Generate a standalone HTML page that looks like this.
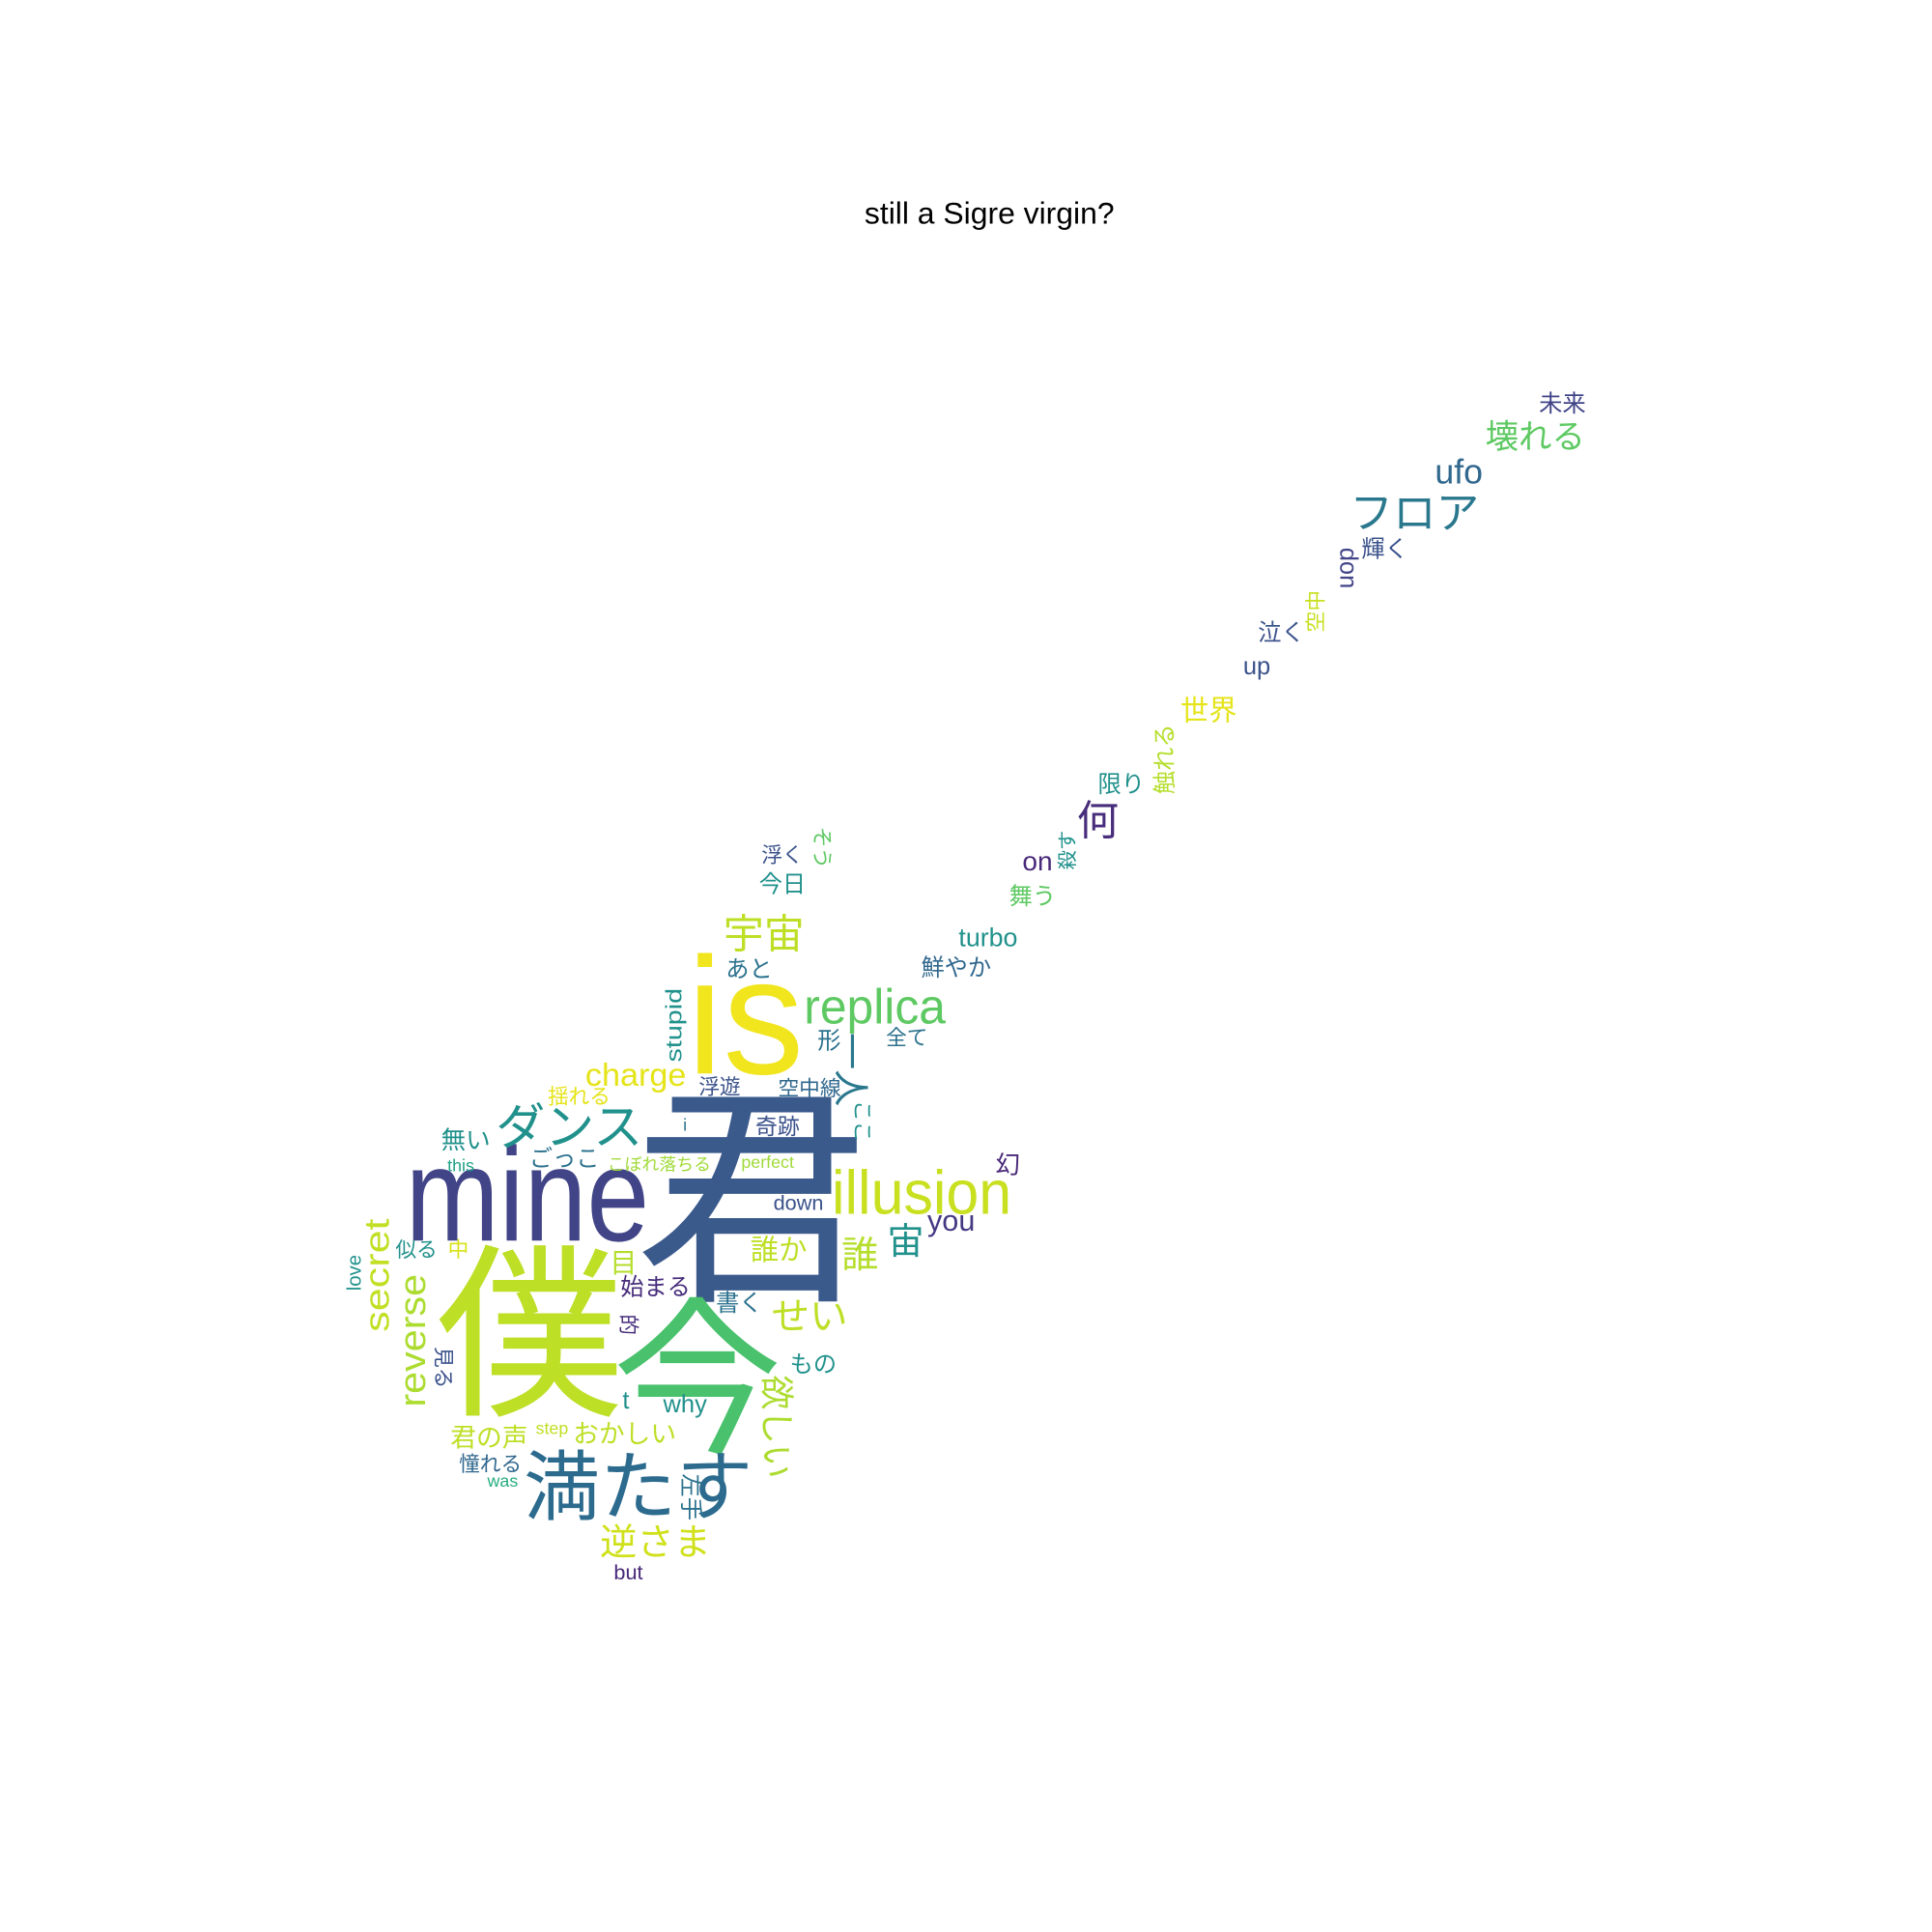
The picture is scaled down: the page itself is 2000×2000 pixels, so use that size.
<!DOCTYPE html>
<html><head><meta charset="utf-8">
<style>
html,body{margin:0;padding:0;background:#fff;}
svg{display:block;}
text{font-family:"Liberation Sans","Noto Sans CJK JP",sans-serif;text-anchor:middle;dominant-baseline:central;}
</style></head>
<body>
<svg width="2000" height="2000" viewBox="0 0 1568 1568">
<rect width="1568" height="1568" fill="#fff"/>
<text x="803" y="173" font-size="25" fill="#000">still a Sigre virgin?</text>

<text x="610" y="976" font-size="190" fill="#3b5a8c">君</text>
<text x="430" y="1085" font-size="152" fill="#bddf26">僕</text>
<text x="566" y="1122" font-size="138" fill="#4ac16d">今</text>
<text x="605" y="825" font-size="135" fill="#f1e51d" textLength="95" lengthAdjust="spacingAndGlyphs">is</text>
<text x="428" y="970" font-size="108" fill="#414487" textLength="198" lengthAdjust="spacingAndGlyphs">mine</text>
<text x="518" y="1207" font-size="62" fill="#2c6b8e">満たす</text>
<text x="748" y="968" font-size="50" fill="#c8e020" textLength="146" lengthAdjust="spacingAndGlyphs">illusion</text>
<text x="710" y="817" font-size="40" fill="#5ec962" textLength="115" lengthAdjust="spacingAndGlyphs">replica</text>
<text x="462" y="915" font-size="40" fill="#21918c">ダンス</text>
<text x="620" y="758" font-size="33" fill="#bddf26">宇宙</text>
<text x="516" y="873" font-size="26" fill="#e5e419" textLength="82" lengthAdjust="spacingAndGlyphs">charge</text>
<text x="306" y="1035" font-size="28" fill="#c2df23" textLength="92" lengthAdjust="spacingAndGlyphs" transform="rotate(-90 306 1035)">secret</text>
<text x="335" y="1088" font-size="30" fill="#addc30" textLength="108" lengthAdjust="spacingAndGlyphs" transform="rotate(-90 335 1088)">reverse</text>
<text x="690" y="868" font-size="30" fill="#2a788e" transform="rotate(90 690 868)">一人</text>
<text x="700" y="910" font-size="17" fill="#21918c" transform="rotate(90 700 910)">ここ</text>
<text x="547" y="832" font-size="18" fill="#21918c" textLength="60" lengthAdjust="spacingAndGlyphs" transform="rotate(-90 547 832)">stupid</text>
<text x="632" y="1015" font-size="23" fill="#bddf26">誰か</text>
<text x="698" y="1019" font-size="30" fill="#b5de2b">誰</text>
<text x="735" y="1008" font-size="30" fill="#21918c">宙</text>
<text x="772" y="991" font-size="24" fill="#443983">you</text>
<text x="818" y="946" font-size="20" fill="#482878">幻</text>
<text x="657" y="1069" font-size="31" fill="#bddf26">せい</text>
<text x="630" y="1158" font-size="28" fill="#addc30" transform="rotate(90 630 1158)">欲しい</text>
<text x="506" y="1025" font-size="22" fill="#b5de2b">目</text>
<text x="532" y="1045" font-size="19" fill="#472d7b">始まる</text>
<text x="600" y="1058" font-size="19" fill="#2c728e">書く</text>
<text x="510" y="1075" font-size="17" fill="#472d7b" transform="rotate(90 510 1075)">的</text>
<text x="660" y="1108" font-size="19" fill="#21918c">もの</text>
<text x="508" y="1137" font-size="20" fill="#21918c">t</text>
<text x="556" y="1140" font-size="20" fill="#21918c">why</text>
<text x="507" y="1164" font-size="21" fill="#bddf26">おかしい</text>
<text x="448" y="1159" font-size="14" fill="#c2df23">step</text>
<text x="397" y="1167" font-size="21" fill="#bddf26">君の声</text>
<text x="398" y="1188" font-size="17" fill="#31688e">憧れる</text>
<text x="408" y="1202" font-size="14" fill="#26ad81">was</text>
<text x="560" y="1215" font-size="19" fill="#2c728e" transform="rotate(90 560 1215)">左手</text>
<text x="532" y="1252" font-size="30" fill="#d0e11c">逆さま</text>
<text x="510" y="1276" font-size="17" fill="#482878">but</text>
<text x="360" y="1110" font-size="17" fill="#3b528b" transform="rotate(90 360 1110)">見る</text>
<text x="338" y="1014" font-size="17" fill="#21918c">似る</text>
<text x="372" y="1014" font-size="17" fill="#d8e219">中</text>
<text x="288" y="1033" font-size="16" fill="#21918c" transform="rotate(-90 288 1033)">love</text>
<text x="378" y="926" font-size="20" fill="#21918c">無い</text>
<text x="374" y="946" font-size="14" fill="#1fa187">this</text>
<text x="458" y="941" font-size="19" fill="#2c728e">ごっこ</text>
<text x="535" y="945" font-size="14" fill="#a0da39">こぼれ落ちる</text>
<text x="623" y="943" font-size="14" fill="#a0da39">perfect</text>
<text x="631" y="914" font-size="18" fill="#3b528b">奇跡</text>
<text x="556" y="913" font-size="14" fill="#2c728e">i</text>
<text x="470" y="890" font-size="17" fill="#e5e419">揺れる</text>
<text x="584" y="882" font-size="17" fill="#3b528b">浮遊</text>
<text x="657" y="883" font-size="17" fill="#31688e">空中線</text>
<text x="673" y="845" font-size="19" fill="#2c728e">形</text>
<text x="736" y="842" font-size="17" fill="#2c728e">全て</text>
<text x="608" y="787" font-size="19" fill="#2c728e">あと</text>
<text x="648" y="976" font-size="17" fill="#3b528b">down</text>
<text x="635" y="718" font-size="19" fill="#21918c">今日</text>
<text x="635" y="694" font-size="17" fill="#3b528b">浮く</text>
<text x="667" y="688" font-size="17" fill="#5ec962" transform="rotate(90 667 688)">そう</text>
<text x="802" y="761" font-size="21" fill="#21918c">turbo</text>
<text x="776" y="786" font-size="19" fill="#31688e">鮮やか</text>
<text x="838" y="728" font-size="19" fill="#5ec962">舞う</text>
<text x="842" y="699" font-size="22" fill="#482878">on</text>
<text x="867" y="690" font-size="16" fill="#21918c" transform="rotate(-90 867 690)">殺す</text>
<text x="891" y="667" font-size="34" fill="#472d7b">何</text>
<text x="910" y="637" font-size="19" fill="#21918c">限り</text>
<text x="946" y="616" font-size="19" fill="#b5de2b" transform="rotate(-90 946 616)">触れる</text>
<text x="981" y="577" font-size="23" fill="#e5e419">世界</text>
<text x="1020" y="541" font-size="20" fill="#3b528b">up</text>
<text x="1040" y="514" font-size="19" fill="#3b528b">泣く</text>
<text x="1068" y="496" font-size="17" fill="#c8e020" transform="rotate(-90 1068 496)">空中</text>
<text x="1094" y="461" font-size="20" fill="#414487" transform="rotate(90 1094 461)">don</text>
<text x="1124" y="446" font-size="19" fill="#3b528b">輝く</text>
<text x="1148" y="417" font-size="35" fill="#2a788e">フロア</text>
<text x="1184" y="383" font-size="28" fill="#31688e">ufo</text>
<text x="1246" y="355" font-size="27" fill="#5ec962">壊れる</text>
<text x="1268" y="328" font-size="19" fill="#414487">未来</text>
</svg>
</body></html>
